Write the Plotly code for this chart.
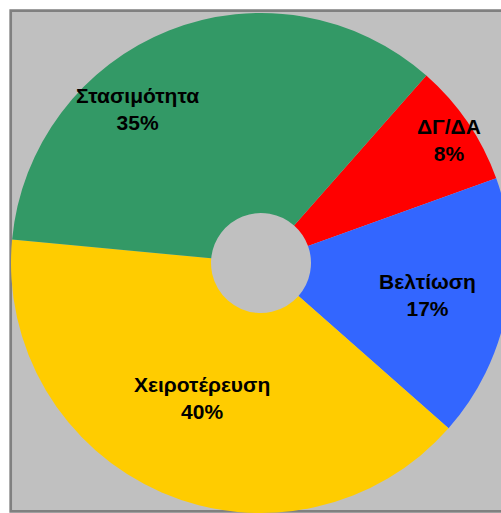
import math
import plotly.graph_objects as go

# ---- data ----
labels = ["ΔΓ/ΔΑ", "Βελτίωση", "Χειροτέρευση", "Στασιμότητα"]
values = [8, 17, 40, 35]
colors = ["#FF0000", "#3366FF", "#FFCC00", "#339966"]

# ---- label placement (fraction of radius, angle offset in degrees) ----
label_radius = [0.90, 0.68, 0.59, 0.79]
label_angle_shift = [1, 0, 0, -17]

W, H = 520, 520
CX, CY, R = 261, 263, 250          # pie centre & radius in pixels
ROT = 41.4                          # start angle, clockwise from 12 o'clock

fig = go.Figure()
fig.add_trace(go.Pie(
    labels=labels, values=values, sort=False, direction="clockwise",
    rotation=ROT, hole=0.2, textinfo="none", hoverinfo="label+percent",
    marker=dict(colors=colors, line=dict(width=0)),
    domain=dict(x=[(CX - R) / W, (CX + R) / W],
                y=[1 - (CY + R) / H, 1 - (CY - R) / H]),
    showlegend=False,
))

total = sum(values)
cum = 0
annotations = []
for lab, v, rf, sh in zip(labels, values, label_radius, label_angle_shift):
    mid = ROT + (cum + v / 2) / total * 360 + sh
    cum += v
    a = math.radians(mid)
    px = CX + rf * R * math.sin(a)
    py = CY - rf * R * math.cos(a)
    pct = round(v / total * 100)
    annotations.append(dict(
        x=px / W, y=1 - py / H, xref="paper", yref="paper",
        text=f"{lab}<br>{pct}%", showarrow=False, align="center",
        xanchor="center", yanchor="middle",
        font=dict(family="Liberation Sans, Arial, sans-serif", size=21,
                  color="black", weight="bold"),
    ))

fig.update_layout(
    width=W, height=H, autosize=False,
    margin=dict(l=0, r=0, t=0, b=0, pad=0),
    paper_bgcolor="white",
    annotations=annotations,
    shapes=[dict(type="rect", xref="paper", yref="paper", layer="below",
                 x0=10.7 / W, x1=1.05, y0=1 - 511.3 / H, y1=1 - 10.7 / H,
                 fillcolor="#C0C0C0", line=dict(color="#808080", width=2.7))],
)

fig.write_html("out.html",
               config={"displayModeBar": False},
               post_script="document.body.style.margin='0';document.body.style.overflow='hidden';")
